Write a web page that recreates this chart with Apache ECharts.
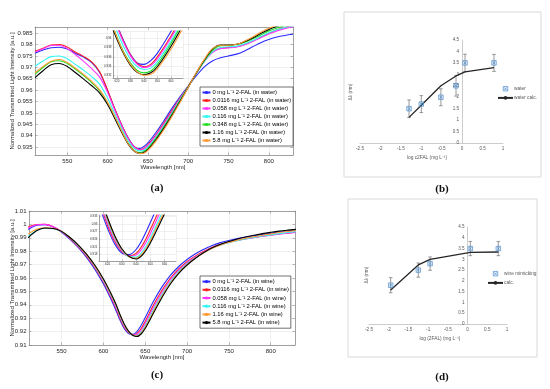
<!DOCTYPE html>
<html><head><meta charset="utf-8">
<script src="https://cdn.jsdelivr.net/npm/echarts@6/dist/echarts.min.js"></script>
<style>html,body{margin:0;padding:0;background:#fff}#c{width:550px;height:389px}</style>
</head><body><div id="c"></div>
<script>
// ---------- Panel (a): spectra in water ----------
const wlA = [510,520,530,540,550,560,570,580,590,600,610,620,625,630,635,640,645,650,660,670,680,690,700,710,720,730,740,750,760,770,780,790,800,810,820,830];
const a_0     = [0.9762,0.9776,0.9786,0.9788,0.9780,0.9762,0.9745,0.9722,0.9678,0.9598,0.9508,0.9428,0.9394,0.9365,0.9347,0.9344,0.9352,0.9368,0.9414,0.9466,0.9521,0.9572,0.9618,0.9662,0.9702,0.9728,0.9742,0.9750,0.9758,0.9772,0.9790,0.9808,0.9822,0.9833,0.9840,0.9845];
const a_00116 = [0.9770,0.9784,0.9798,0.9800,0.9789,0.9767,0.9748,0.9725,0.9682,0.9600,0.9508,0.9427,0.9392,0.9364,0.9346,0.9339,0.9344,0.9360,0.9404,0.9456,0.9511,0.9565,0.9617,0.9673,0.9728,0.9768,0.9785,0.9787,0.9790,0.9800,0.9815,0.9832,0.9850,0.9865,0.9876,0.9884];
const a_0058  = [0.9767,0.9782,0.9796,0.9797,0.9782,0.9756,0.9727,0.9695,0.9658,0.9590,0.9503,0.9424,0.9390,0.9362,0.9344,0.9337,0.9341,0.9356,0.9400,0.9451,0.9506,0.9562,0.9616,0.9672,0.9725,0.9765,0.9782,0.9785,0.9789,0.9799,0.9813,0.9830,0.9846,0.9860,0.9870,0.9878];
const a_0116  = [0.9705,0.9728,0.9747,0.9750,0.9738,0.9713,0.9688,0.9660,0.9626,0.9565,0.9488,0.9414,0.9381,0.9355,0.9339,0.9333,0.9336,0.9350,0.9393,0.9444,0.9500,0.9558,0.9615,0.9672,0.9726,0.9768,0.9787,0.9790,0.9793,0.9803,0.9818,0.9835,0.9852,0.9865,0.9875,0.9882];
const a_0348  = [0.9670,0.9699,0.9724,0.9729,0.9717,0.9692,0.9665,0.9634,0.9598,0.9544,0.9474,0.9402,0.9370,0.9347,0.9331,0.9326,0.9330,0.9344,0.9388,0.9440,0.9496,0.9555,0.9614,0.9673,0.9728,0.9775,0.9795,0.9797,0.9800,0.9810,0.9825,0.9842,0.9860,0.9873,0.9883,0.9890];
const a_116   = [0.9655,0.9685,0.9711,0.9717,0.9704,0.9677,0.9649,0.9620,0.9588,0.9537,0.9468,0.9397,0.9366,0.9342,0.9327,0.9322,0.9326,0.9339,0.9382,0.9433,0.9490,0.9551,0.9612,0.9675,0.9732,0.9780,0.9798,0.9798,0.9801,0.9813,0.9829,0.9848,0.9866,0.9880,0.9890,0.9897];
const a_58    = [0.9676,0.9704,0.9727,0.9734,0.9721,0.9697,0.9669,0.9639,0.9602,0.9547,0.9476,0.9401,0.9368,0.9344,0.9328,0.9321,0.9323,0.9335,0.9376,0.9427,0.9485,0.9547,0.9611,0.9676,0.9735,0.9782,0.9797,0.9797,0.9801,0.9815,0.9833,0.9854,0.9871,0.9885,0.9894,0.9901];
const concA = ['0','0.0116','0.058','0.116','0.348','1.16','5.8'];
const seriesA = [a_0,a_00116,a_0058,a_0116,a_0348,a_116,a_58];
const colorsA = ['#2a2aff','#ff1f1f','#ff33ff','#33f5f5','#22dd22','#000000','#ff9933'];

// ---------- Panel (c): spectra in wine ----------
const wlC = [510,520,530,540,550,560,570,580,590,600,610,615,620,625,630,635,640,645,650,660,670,680,690,700,710,720,730,740,750,760,770,780,790,800,810,820,830];
const c_0     = [0.9962,0.9993,0.9998,0.9980,0.9941,0.9888,0.9826,0.9752,0.9662,0.9555,0.9428,0.9358,0.9282,0.9222,0.9186,0.9180,0.9200,0.9246,0.9306,0.9428,0.9534,0.9620,0.9686,0.9738,0.9781,0.9815,0.9843,0.9864,0.9880,0.9894,0.9906,0.9916,0.9925,0.9934,0.9943,0.9951,0.9958];
const c_00116 = [0.9980,0.9999,1.0000,0.9983,0.9946,0.9895,0.9835,0.9762,0.9675,0.9570,0.9445,0.9375,0.9295,0.9232,0.9192,0.9175,0.9185,0.9222,0.9278,0.9400,0.9508,0.9598,0.9668,0.9722,0.9765,0.9800,0.9830,0.9852,0.9868,0.9882,0.9893,0.9903,0.9912,0.9920,0.9928,0.9935,0.9941];
const c_0058  = [0.9972,0.9997,1.0000,0.9982,0.9947,0.9897,0.9838,0.9766,0.9680,0.9576,0.9452,0.9383,0.9303,0.9238,0.9195,0.9174,0.9178,0.9210,0.9262,0.9383,0.9492,0.9585,0.9658,0.9714,0.9758,0.9795,0.9826,0.9849,0.9866,0.9880,0.9892,0.9902,0.9911,0.9919,0.9927,0.9934,0.9940];
const c_0116  = [0.9910,0.9955,0.9972,0.9968,0.9948,0.9900,0.9842,0.9770,0.9685,0.9582,0.9460,0.9392,0.9312,0.9245,0.9198,0.9172,0.9170,0.9196,0.9245,0.9365,0.9476,0.9572,0.9648,0.9706,0.9752,0.9790,0.9822,0.9846,0.9864,0.9879,0.9892,0.9903,0.9913,0.9922,0.9931,0.9939,0.9946];
const c_116   = [0.9928,0.9963,0.9975,0.9970,0.9948,0.9901,0.9844,0.9773,0.9689,0.9587,0.9466,0.9398,0.9318,0.9250,0.9200,0.9172,0.9166,0.9188,0.9234,0.9352,0.9465,0.9563,0.9641,0.9701,0.9749,0.9789,0.9822,0.9847,0.9866,0.9882,0.9896,0.9908,0.9919,0.9929,0.9939,0.9947,0.9954];
const c_58    = [0.9900,0.9952,0.9973,0.9970,0.9948,0.9902,0.9846,0.9776,0.9693,0.9592,0.9472,0.9404,0.9324,0.9255,0.9203,0.9173,0.9163,0.9182,0.9225,0.9340,0.9455,0.9555,0.9635,0.9697,0.9747,0.9790,0.9825,0.9852,0.9873,0.9891,0.9906,0.9919,0.9931,0.9941,0.9950,0.9957,0.9963];
const concC = ['0','0.0116','0.058','0.116','1.16','5.8'];
const seriesC = [c_0,c_00116,c_0058,c_0116,c_116,c_58];
const colorsC = ['#2a2aff','#ff1f1f','#ff33ff','#33f5f5','#ff9933','#000000'];

// ---------- Panel (b): water ----------
const bX    = [-1.3,-1.0,-0.52,-0.15,0.07,0.78];
const bY    = [1.5,1.7,2.0,2.5,3.5,3.5];
const bErr  = [0.38,0.37,0.37,0.45,0.38,0.37];
const bCalc = [1.12,1.65,2.5,2.93,3.11,3.29];
// ---------- Panel (d): wine mimicking ----------
const dX    = [-1.95,-1.25,-0.95,0.07,0.78];
const dY    = [1.8,2.5,2.8,3.5,3.5];
const dErr  = [0.35,0.33,0.31,0.33,0.33];
const dCalc = [1.58,2.74,3.0,3.32,3.34];
const logRange = [-2.5, 1];

const FONT = 'Liberation Sans';
const pair = (xs, ys) => xs.map((x,i)=>[x, ys[i]]);

function errRender(params, api){
  const x = api.value(0), y = api.value(1), e = api.value(2);
  const t = api.coord([x, y+e]), b = api.coord([x, y-e]);
  const w = 1.8, st = {stroke:'#7f7f7f', lineWidth:0.8};
  return {type:'group', children:[
    {type:'line', shape:{x1:t[0],y1:t[1],x2:b[0],y2:b[1]}, style:st},
    {type:'line', shape:{x1:t[0]-w,y1:t[1],x2:t[0]+w,y2:t[1]}, style:st},
    {type:'line', shape:{x1:b[0]-w,y1:b[1],x2:b[0]+w,y2:b[1]}, style:st}
  ]};
}

const grids = [
  {left:35, top:27, width:258, height:128},
  {left:113, top:31, width:70, height:47, show:true, backgroundColor:'#fff', borderWidth:0, z:5},
  {left:29, top:211, width:266, height:134},
  {left:99, top:215, width:77, height:46, show:true, backgroundColor:'#fff', borderWidth:0, z:5},
  {left:360, top:40, width:143, height:103},
  {left:369, top:227, width:138, height:97}
];

const frameLine = {show:true, onZero:false, lineStyle:{color:'#8c8c8c', width:0.8}};
const mainTick = {show:true, inside:true, length:2.5, lineStyle:{color:'#8c8c8c', width:0.6}};
const gridLine = {show:true, lineStyle:{color:'#e6e6e6', width:0.6}};
const mainLbl = {fontSize:6, color:'#262626', fontFamily:FONT, showMinLabel:false, showMaxLabel:false};
const inLbl = {fontSize:3, color:'#333', fontFamily:FONT, margin:1.5, showMinLabel:false, showMaxLabel:false};

function frameAxes(gi, xr, yr, ysplit, yInterval){
  const xs = [
    {gridIndex:gi, type:'value', min:xr[0], max:xr[1], position:'bottom', axisLine:frameLine, axisTick:mainTick, splitLine:gridLine, axisLabel:Object.assign({margin:3.5}, mainLbl)},
    {gridIndex:gi, type:'value', min:xr[0], max:xr[1], position:'top', axisLine:frameLine, axisTick:mainTick, splitLine:{show:false}, axisLabel:{show:false}}
  ];
  const yBase = {gridIndex:gi, type:'value', min:yr[0], max:yr[1], scale:true};
  if (yInterval) yBase.interval = yInterval; else yBase.splitNumber = ysplit;
  const ys = [
    Object.assign({}, yBase, {position:'left', axisLine:frameLine, axisTick:mainTick, splitLine:gridLine, axisLabel:Object.assign({margin:2.5}, mainLbl, yInterval?{showMinLabel:true,showMaxLabel:true}:{})}),
    Object.assign({}, yBase, {position:'right', axisLine:frameLine, axisTick:mainTick, splitLine:{show:false}, axisLabel:{show:false}})
  ];
  return [xs, ys];
}
function insetAxes(gi, xr, yr){
  const tk = {show:true,inside:true,length:1.5,lineStyle:{color:'#8c8c8c',width:0.5}};
  return [
    {gridIndex:gi, type:'value', min:xr[0], max:xr[1], z:6, axisLine:frameLine, axisTick:tk, splitLine:gridLine, axisLabel:inLbl},
    {gridIndex:gi, type:'value', min:yr[0], max:yr[1], scale:true, z:6, axisLine:frameLine, axisTick:tk, splitLine:gridLine, axisLabel:inLbl}
  ];
}
const [axA_x, axA_y] = frameAxes(0, [510,830], [0.9315,0.9877], 11, null);
const [axC_x, axC_y] = frameAxes(2, [511,829], [0.91,1.01], null, 0.01);
const inA = insetAxes(1, [617,669], [0.9315,0.9415]);
const inC = insetAxes(3, [614,668], [0.9155,0.9335]);

const exLbl = {fontSize:4.6, color:'#595959', fontFamily:FONT, margin:3};
const exLineStyle = {color:'#bfbfbf', width:0.8};
function excelAxes(gi){
  // y axis crosses the x axis at log c = 0
  const zeroShift = (0 - logRange[0]) / (logRange[1] - logRange[0]) * grids[gi].width;
  return [
    {gridIndex:gi, type:'value', min:logRange[0], max:logRange[1], interval:0.5, axisLine:{show:true, onZero:false, lineStyle:exLineStyle}, axisTick:{show:false}, splitLine:{show:false}, axisLabel:exLbl},
    {gridIndex:gi, type:'value', min:0, max:4.5, interval:0.5, position:'left', offset:-zeroShift, axisLine:{show:true, onZero:false, lineStyle:exLineStyle}, axisTick:{show:false}, splitLine:{show:false}, axisLabel:exLbl}
  ];
}
const exB = excelAxes(4), exD = excelAxes(5);

const xAxes = [axA_x[0], axA_x[1], inA[0], axC_x[0], axC_x[1], inC[0], exB[0], exD[0]];
const yAxes = [axA_y[0], axA_y[1], inA[1], axC_y[0], axC_y[1], inC[1], exB[1], exD[1]];

const series = [];
const namesA = concA.map(c => c + ' mg L\u207B\u00B9 2-FAL (in water)');
const namesC = concC.map(c => c + ' mg L\u207B\u00B9 2-FAL (in wine)');
function spectra(wl, vals, names, colors, xi, yi, z){
  vals.forEach((v,k) => series.push({
    type:'line', name:names[k], xAxisIndex:xi, yAxisIndex:yi, data:pair(wl, v),
    showSymbol:false, symbol:'none', smooth:0.35, clip:true, z:z,
    lineStyle:{color:colors[k], width:1.1}, itemStyle:{color:colors[k]}, animation:false
  }));
}
spectra(wlA, seriesA, namesA, colorsA, 0, 0, 2);
spectra(wlA, seriesA, namesA, colorsA, 2, 2, 7);
spectra(wlC, seriesC, namesC, colorsC, 3, 3, 2);
spectra(wlC, seriesC, namesC, colorsC, 5, 5, 7);

const xMark = 'path://M0 0H10V10H0ZM2 2L8 8M8 2L2 8';
const markStyle = {color:'rgba(91,155,213,0.12)', borderColor:'#4f8fd0', borderWidth:0.9};
function excelSeries(xi, xs, ys, errs, calc, ptName, calcName){
  series.push({type:'custom', xAxisIndex:xi, yAxisIndex:xi, renderItem:errRender,
    data:xs.map((x,i)=>[x, ys[i], errs[i]]), z:3, animation:false});
  series.push({type:'line', name:calcName, xAxisIndex:xi, yAxisIndex:xi, data:pair(xs, calc),
    showSymbol:false, symbol:'none', lineStyle:{color:'#262626', width:1.3}, itemStyle:{color:'#262626'}, z:4, animation:false});
  series.push({type:'scatter', name:ptName, xAxisIndex:xi, yAxisIndex:xi, data:pair(xs, ys),
    symbol:xMark, symbolSize:4.5, itemStyle:markStyle, z:5, animation:false});
}
excelSeries(6, bX, bY, bErr, bCalc, 'water', 'water calc.');
excelSeries(7, dX, dY, dErr, dCalc, 'wine mimicking', 'calc.');

const legMain = (names, top, lh) => ({
  data:names, left:200, top:top, orient:'vertical', itemWidth:8, itemHeight:4, itemGap:0,
  padding:[1.5,2,1.5,1.5], backgroundColor:'#fff', borderColor:'#333', borderWidth:0.7,
  textStyle:{fontSize:5.8, fontFamily:FONT, color:'#000', lineHeight:lh, padding:[0,0,0,-3]}, z:10,
  selectedMode:false
});
const legEx = (names, left, top) => ({
  data:[{name:names[0], icon:xMark, itemStyle:markStyle}, {name:names[1]}],
  left:left, top:top, orient:'vertical', itemWidth:15, itemHeight:4.5, itemGap:4,
  padding:0, textStyle:{fontSize:4.8, fontFamily:FONT, color:'#595959', padding:[0,0,0,-4]}, selectedMode:false
});

const txt = (x, y, s, o) => ({type:'text', x:x, y:y, rotation:(o&&o.rot)||0, z:20,
  style:Object.assign({text:s, align:'center', verticalAlign:'middle', fontSize:6, fontFamily:FONT, fill:'#262626'}, (o&&o.style)||{})});
const panelLbl = (x, y, s) => txt(x, y, s, {style:{fontSize:11, fontFamily:'Liberation Serif', fontWeight:'bold', fill:'#111'}});
const exStyle = {fontSize:4.8, fill:'#595959'};

const option = {
  animation:false,
  backgroundColor:'#fff',
  grid:grids, xAxis:xAxes, yAxis:yAxes, series:series,
  legend:[legMain(namesA, 87, 8), legMain(namesC, 276, 8.2), legEx(['water','water calc.'], 497, 86), legEx(['wine mimicking','calc.'], 487, 271)],
  graphic:[
    {type:'rect', shape:{x:344, y:12, width:197, height:165}, style:{fill:'none', stroke:'#d9d9d9', lineWidth:1}, z:0},
    {type:'rect', shape:{x:348, y:199, width:189, height:158}, style:{fill:'none', stroke:'#d9d9d9', lineWidth:1}, z:0},
    txt(12, 91, 'Normalized Transmitted Light Intensity [a.u.]', {rot:Math.PI/2}),
    txt(163, 167, 'Wavelength [nm]'),
    txt(12, 278, 'Normalized Transmitted Light Intensity [a.u.]', {rot:Math.PI/2}),
    txt(162, 357, 'Wavelength [nm]'),
    txt(351, 92, '\u0394\u03BB (nm)', {rot:Math.PI/2, style:exStyle}),
    txt(427, 158, 'log c2FAL (mg L\u207B\u00B9)', {style:exStyle}),
    txt(367, 275, '\u0394\u03BB (nm)', {rot:Math.PI/2, style:exStyle}),
    txt(440, 339, 'log (2FAL) (mg L\u207B\u00B9)', {style:exStyle}),
    panelLbl(157, 188, '(a)'),
    panelLbl(442, 189, '(b)'),
    panelLbl(157, 375, '(c)'),
    panelLbl(442, 377, '(d)')
  ]
};
const chart = echarts.init(document.getElementById('c'), null, {renderer:'canvas'});
chart.setOption(option);
</script></body></html>
